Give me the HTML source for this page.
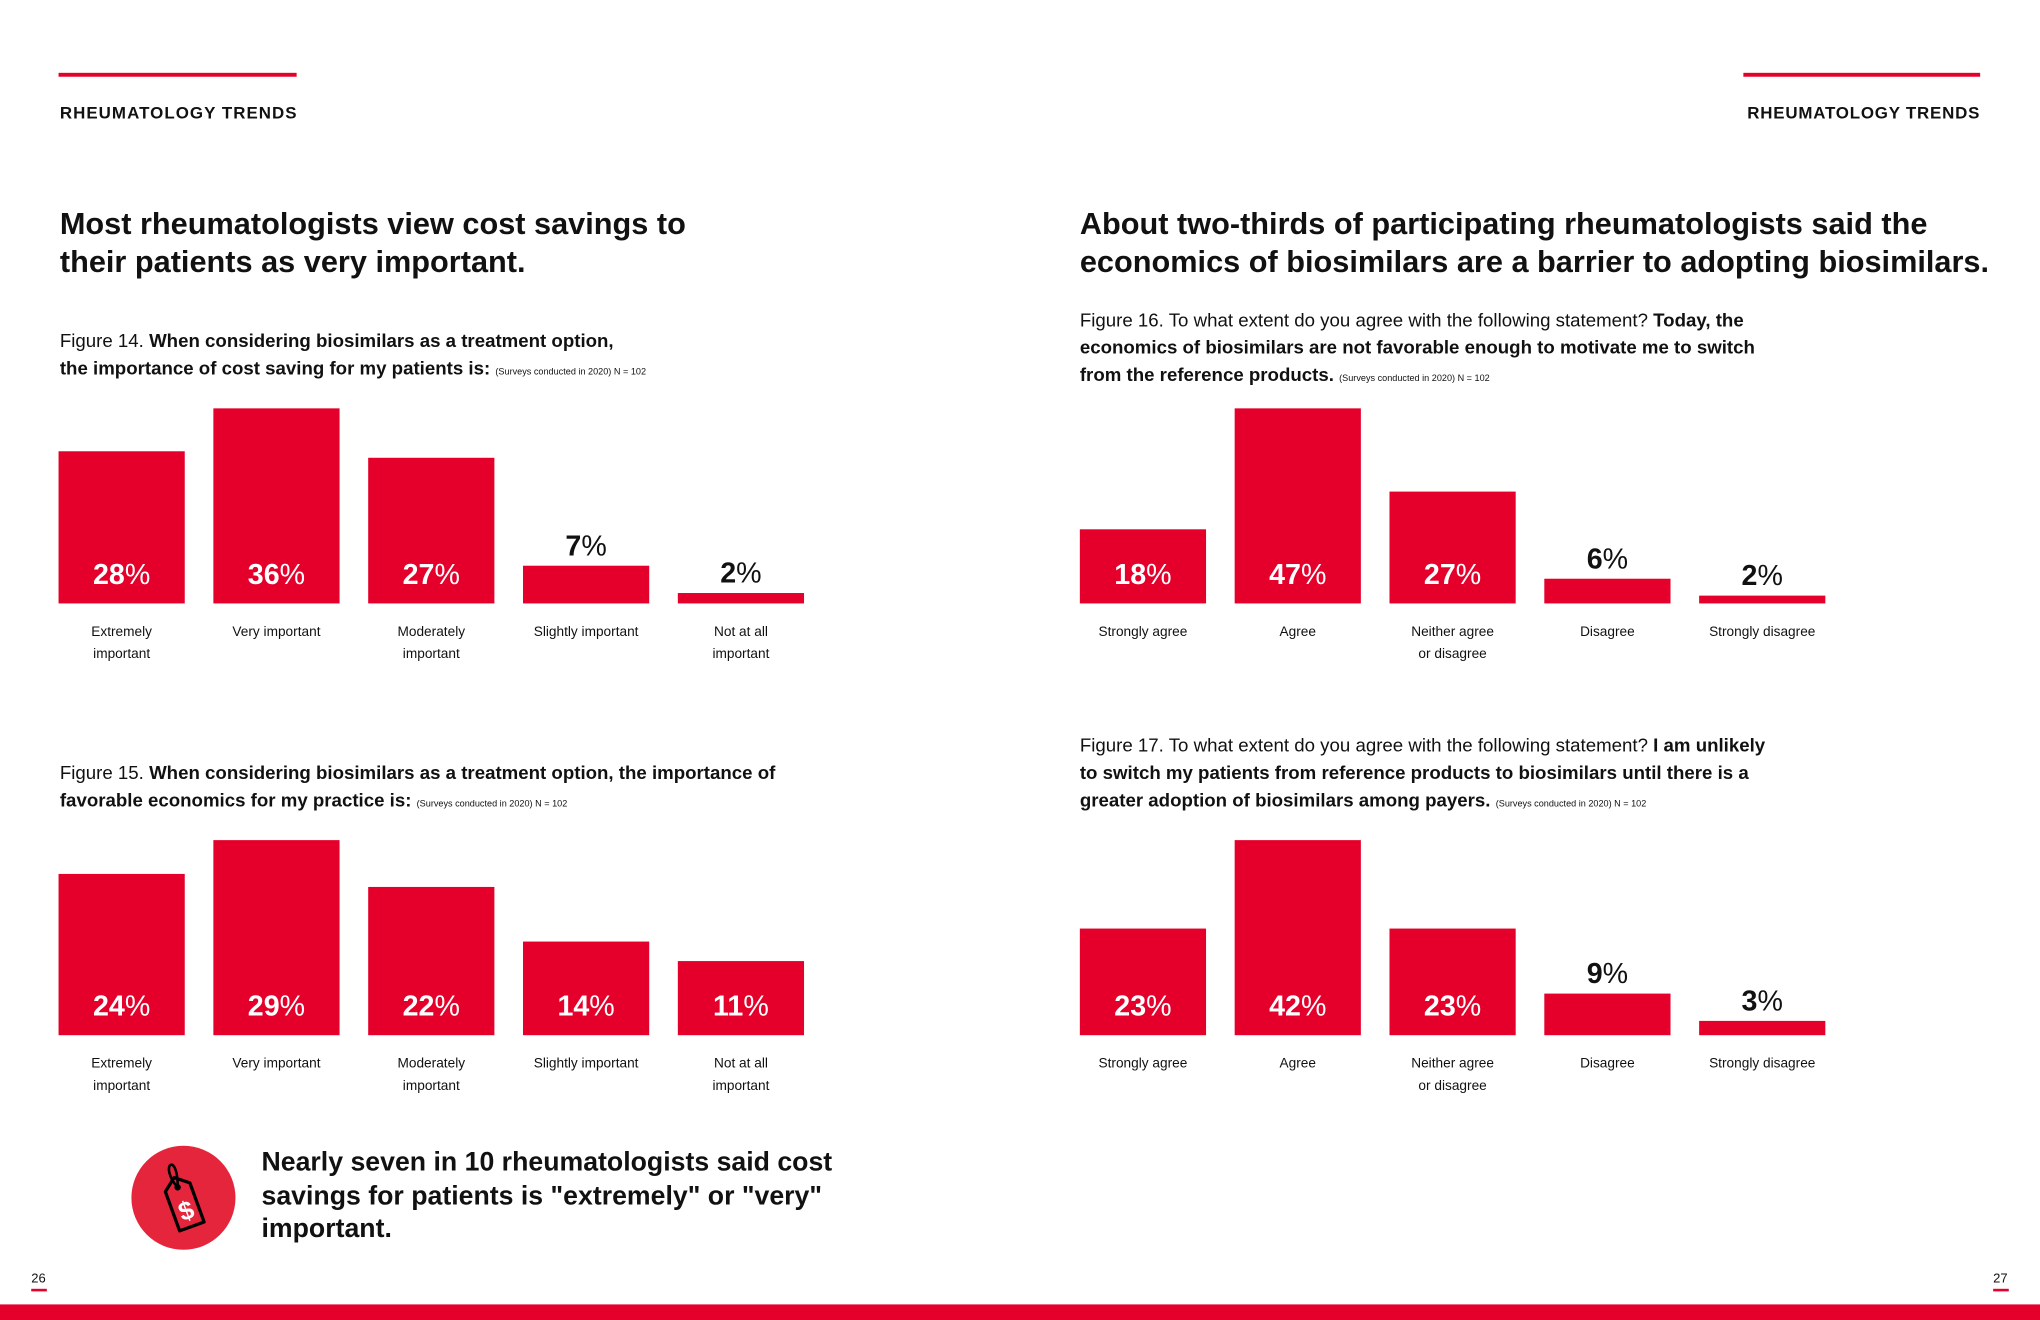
<!DOCTYPE html>
<html><head><meta charset="utf-8">
<style>
html,body{margin:0;padding:0;background:#fff;}
body{width:2040px;height:1320px;overflow:hidden;position:relative;font-family:"Liberation Sans",sans-serif;color:#111;}
#wrap{position:absolute;left:0;top:0;width:1568px;height:1015px;transform:scale(1.30102,1.3005);transform-origin:0 0;}
.abs{position:absolute;}
.rule{position:absolute;height:3px;background:#e4002b;}
.trend{position:absolute;font-weight:bold;font-size:13px;letter-spacing:0.8px;}
.head{position:absolute;font-weight:bold;font-size:23.6px;line-height:29px;letter-spacing:0px;white-space:nowrap;}
.cap{position:absolute;font-size:14.35px;line-height:21px;letter-spacing:0px;white-space:nowrap;}
.cap b{font-weight:bold;}
.cap small{font-size:7px;font-weight:normal;margin-left:4px;}
.bar{position:absolute;background:#e4002b;}
.val{position:absolute;width:97px;text-align:center;font-size:22px;font-weight:bold;line-height:26px;}
.val span{font-weight:normal;}
.cat{position:absolute;width:110px;text-align:center;font-size:10.5px;line-height:16.5px;}
</style></head><body>
<div id="wrap">
<div class="rule" style="left:45px;top:56px;width:183px"></div>
<div class="rule" style="left:1340px;top:56px;width:182px"></div>
<div class="trend" style="left:46px;top:79px">RHEUMATOLOGY TRENDS</div>
<div class="trend" style="right:46px;top:79px;letter-spacing:0.6px">RHEUMATOLOGY TRENDS</div>
<div class="head" style="left:46px;top:159px">Most rheumatologists view cost savings to<br>their patients as very important.</div>
<div class="head" style="left:830px;top:159px">About two-thirds of participating rheumatologists said the<br>economics of biosimilars are a barrier to adopting biosimilars.</div>
<div class="cap" style="left:46px;top:253px">Figure 14. <b>When considering biosimilars as a treatment option,<br>the importance of cost saving for my patients is:</b><small>(Surveys conducted in 2020) N = 102</small></div>
<div class="cap" style="left:46px;top:585px">Figure 15. <b>When considering biosimilars as a treatment option, the importance of<br>favorable economics for my practice is:</b><small>(Surveys conducted in 2020) N = 102</small></div>
<div class="cap" style="left:830px;top:237px">Figure 16. To what extent do you agree with the following statement? <b>Today, the<br>economics of biosimilars are not favorable enough to motivate me to switch<br>from the reference products.</b><small>(Surveys conducted in 2020) N = 102</small></div>
<div class="cap" style="left:830px;top:564px">Figure 17. To what extent do you agree with the following statement? <b>I am unlikely<br>to switch my patients from reference products to biosimilars until there is a<br>greater adoption of biosimilars among payers.</b><small>(Surveys conducted in 2020) N = 102</small></div>
<div id="charts"></div>
<svg class="abs" style="left:100px;top:880px" width="84" height="84" viewBox="0 0 84 84">
<circle cx="41" cy="41" r="40" fill="#e4253b"/>
<g transform="rotate(-20 42 48)">
<path d="M32 32 L42 24 L52 32 L52 64 L32 64 Z" fill="#e4253b" stroke="#000" stroke-width="2.5" stroke-linejoin="round"/>
<circle cx="42" cy="32" r="2.5" fill="#000"/>
<path d="M42 32 C38 22 40 14 43 14 C46 14 46 22 42 32" fill="none" stroke="#000" stroke-width="2"/>
<text x="42" y="58" font-size="20" font-weight="bold" fill="#fff" text-anchor="middle" font-family="Liberation Sans">$</text>
</g>
</svg>
<div class="abs" style="left:201px;top:881px;font-size:20.5px;font-weight:bold;line-height:25.5px">Nearly seven in 10 rheumatologists said cost<br>savings for patients is "extremely" or "very"<br>important.</div>
<div class="abs" style="left:24px;top:978px;font-size:10px">26</div>
<div class="rule" style="left:24px;top:991px;width:12px;height:2px"></div>
<div class="abs" style="left:1532px;top:978px;font-size:10px">27</div>
<div class="rule" style="left:1532px;top:991px;width:12px;height:2px"></div>
<div class="rule" style="left:0;top:1003px;width:1568px;height:12px"></div>
</div>
<script>
const impCats = ["Extremely<br>important","Very important","Moderately<br>important","Slightly important","Not at all<br>important"];
const agreeCats = ["Strongly agree","Agree","Neither agree<br>or disagree","Disagree","Strongly disagree"];
const fig14Values = [28,36,27,7,2];
const fig15Values = [24,29,22,14,11];
const fig16Values = [18,47,27,6,2];
const fig17Values = [23,42,23,9,3];
const charts = [
  {id:"figure-14", cats:impCats, vals:fig14Values, x0:45, base:464},
  {id:"figure-15", cats:impCats, vals:fig15Values, x0:45, base:796},
  {id:"figure-16", cats:agreeCats, vals:fig16Values, x0:830, base:464},
  {id:"figure-17", cats:agreeCats, vals:fig17Values, x0:830, base:796}
];
const host = document.getElementById('charts');
charts.forEach(c=>{
  const maxV = Math.max(...c.vals);
  const yScale = v => v/maxV*150;
  const xPos = i => c.x0 + i*119.0;
  c.vals.forEach((v,i)=>{
    const h = yScale(v), top = c.base - h, x = xPos(i);
    const b = document.createElement('div');
    b.className='bar';
    
    
    b.style.cssText=`left:${x}px;top:${top}px;width:97px;height:${h}px`;
    host.appendChild(b);
    const inside = h >= 45;
    const center = inside ? c.base-22 : top-15;
    const l = document.createElement('div');
    l.className='val';
    
    
    l.style.cssText=`left:${x}px;top:${center-13}px;color:${inside?'#fff':'#111'}`;
    l.innerHTML = v+'<span>%</span>';
    host.appendChild(l);
    const t = document.createElement('div');
    t.className='cat';
    
    
    t.style.cssText=`left:${x-6.5}px;top:${c.base+14}px`;
    t.innerHTML = c.cats[i];
    host.appendChild(t);
  });
});
</script>
</body></html>
